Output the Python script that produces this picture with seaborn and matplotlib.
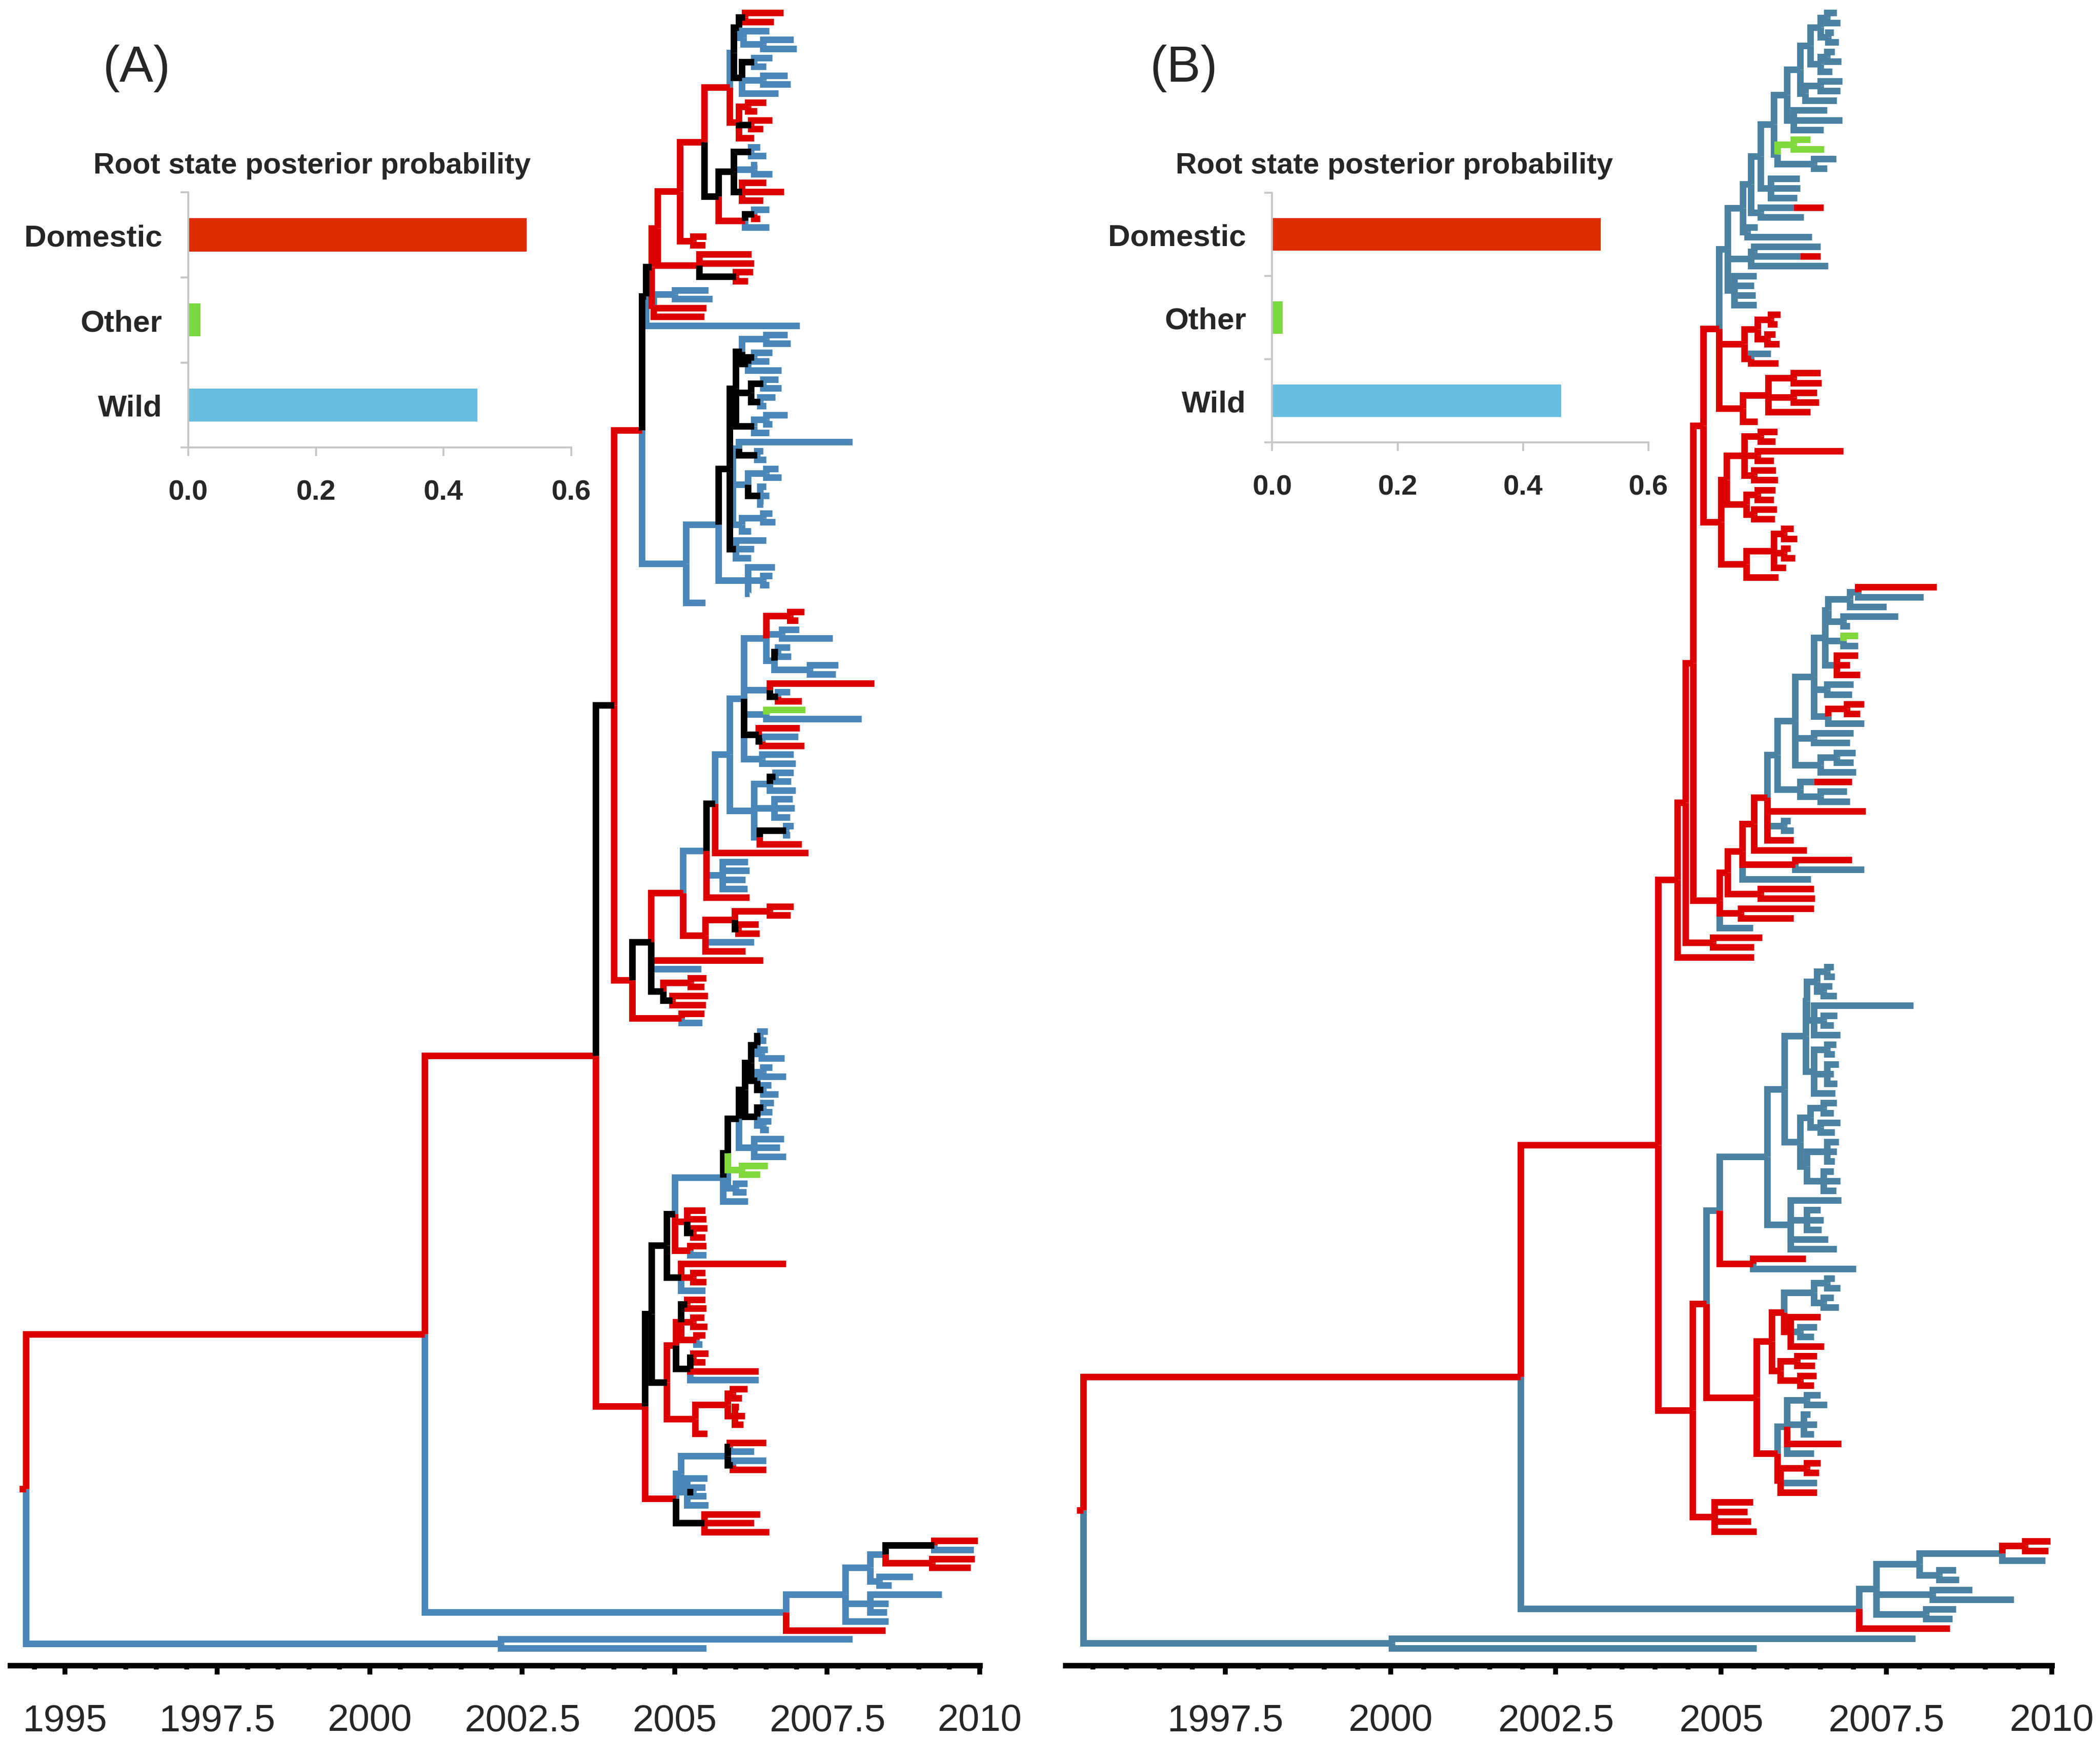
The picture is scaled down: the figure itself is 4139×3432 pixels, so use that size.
import matplotlib
matplotlib.use("Agg")
import matplotlib.pyplot as plt
import numpy as np
import pandas as pd
import seaborn as sns

# ---------------------------------------------------------------------------
# Trees written as nested clades: "(child,child)sT" or leaf "sT"
# s = state of the branch (r domestic, b wild, k unknown, g other)
# T = node time in years after 2000
# ---------------------------------------------------------------------------

# ---- panel A ----
A_G597 = "(((r6.78,r6.62)k6.15,(b6.55,(b6.95,b7.0)b6.45)b6.12)k6.05,((b6.6,b6.5)k6.3,(b6.85,b6.9)b6.45,b6.7)k6.1)b5.97"
A_G605 = "((r6.5,r6.35)r6.2,(r6.6,r6.45)k6.25,r6.3)r6.05"
A_G572 = "(((b6.4,b6.5)k6.25,(b6.35,b6.6)b6.3,(r6.5,r6.79,r6.45)k6.1)k5.97,((b6.55,r6.4)k6.3,b6.55)r6.15)k5.72"
A_G508 = f"((({A_G597},{A_G605})r5.9,{A_G572})r5.48,(r5.52,r5.5)r5.3)r5.08"
A_NC = f"(({A_G508},(r6.26,r6.3,(r6.28,r6.2)k6.0)r5.4)r4.72,((b5.55,b5.62)b5.0,r5.52,r5.48)r4.65)k4.62"
A_NB = f"({A_NC},b7.05)k4.53"
A_NEBIG = ("((((b6.85,b6.9)b6.5,((b6.6,b6.55)k6.3,b6.75)k6.2)k6.1,((b6.7,b6.75)k6.45,(b6.65,b6.5)k6.4)k6.25,"
           "((b6.85,b6.6)b6.5,b6.55)k6.3)k6.0,((b7.91,(b6.45,b6.5)k6.35)b6.05,((b6.7,b6.75)b6.5,"
           "(b6.5,b6.55,b6.45)k6.4)b6.2,((b6.6,b6.65)b6.45,b6.25)b6.1)b5.95,(b6.5,b6.3,b6.25)k6.0)k5.9")
A_NE = f"({A_NEBIG},(b6.64,(b6.6,b6.55)b6.45,b6.22)b6.2)b5.72"
A_NA = f"({A_NB},({A_NE},b5.5)b5.18)r4.46"
A_TOPPART = ("(((r7.12,r7.02)r6.89,(b7.04,b7.59)b6.76,((b6.89,b6.91)k6.69,(b7.68,b7.64)b7.21)b6.63)b6.5,"
             "(r8.27,(b6.89,r7.08)k6.69)b6.56,(g7.14,b8.06)b6.5,(r7.05,(b7.02,r7.12)k6.43)k6.37,"
             "(b6.95,b6.98)b6.43)b6.13")
A_MIDPART = "(((b6.95,b6.91)k6.65,b6.98)b6.56,(b6.93,b6.96,b6.89)b6.63,((b6.95,b6.89)k6.82,r7.08)b6.39)b6.3"
A_BIGBLUE = f"((({A_TOPPART},{A_MIDPART})b5.9,r7.19)k5.66,(b6.2,b6.22,b6.16,b6.19)b5.78,r6.22)b5.52"
A_NR = "(((r6.95,r6.9)r6.56,(r6.37,r6.39)k6.04)r5.98,b6.3,r6.16)r5.5"
A_NG = f"(({A_BIGBLUE},{A_NR})r5.13,r6.45,b5.43,((r5.52,r5.48)r5.26,(r5.54,r5.51)k4.96)k4.81)k4.61"
A_N3 = f"({A_NA},({A_NG},(r5.48,b5.45)r5.11)r4.3)k4.0"
A_SA = "((b6.52,b6.5)k6.4,(b6.52,b6.8)b6.42)k6.35"
A_SB = "((b6.6,b6.82)b6.45,(b6.58,b6.7)k6.45)k6.35"
A_SC = "((b6.62,b6.6)k6.45,(b6.58,b6.54)b6.45)k6.35"
A_STAIR = f"(((({A_SA},{A_SB})k6.25,{A_SC})k6.15,(b6.79,b6.72,b6.82)b6.3)k6.05,(g6.52,g6.4)g6.1,(b6.19,b6.17)b6.0)k5.87"
A_N9 = f"(({A_STAIR},b6.2)b5.79,(r5.5,r5.52,(r5.53,r5.5)k5.3)r5.2,(r5.52,b5.52)r5.25)k5.0"
A_N10 = "(r6.82,(r5.5,r5.52)r5.3,b5.5)k5.1"
A_N11 = "(((r5.5,r5.52)k5.2,(r5.48,r5.53)r5.3,(r5.5,b5.45)r5.35)r5.1,((r5.55,r5.5)k5.3,r6.37,b6.37)k5.25)r5.02"
A_N12 = "(((r6.19,r6.1)r5.95,(r6.05,r6.15,r6.12)r5.98)r5.87,r5.53)r5.33"
A_N13 = "(((r6.5,b6.3)k5.9,(b6.5,r6.5)k5.95)b5.87,(b5.53,(b5.5,b5.52)k5.3,b5.55)b5.2)b5.1"
A_N14 = "(r6.4,r6.3,r6.55)k5.48"
A_N4 = f"((({A_N9},{A_N10})k4.87,({A_N11},{A_N12})k4.87)k4.62,({A_N13},{A_N14})r5.02)r4.51"
A_BC = "(((((r9.97,b9.9)k9.25,(r9.92,r9.85)r9.22)b8.45,(b8.9,b8.55)b8.35)b8.2,(b9.38,b8.5,b8.48)b8.2,b8.5)b7.8,r8.45)b6.82"
TREE_A = f"(((({A_N3},{A_N4})r3.7,{A_BC})r0.9,(b7.91,b5.52)b2.15)r-5.64)r-5.75"

# ---- panel B ----
B_TB1 = "(((b6.75,b6.8)b6.6,(b6.7,b6.78)b6.62)b6.5,((b6.72,b6.82)b6.6,b6.68)b6.5)b6.35"
B_TB2 = "((b6.83,b6.8)b6.5,b6.75)b6.27"
B_TB3 = "(b6.6,b6.83,b6.55)b6.1"
B_TB4 = "((g6.35,g6.56)g6.1,(b6.74,b6.6)b6.4)b5.85"
B_TB5 = "(b6.19,b6.2,b6.15)b5.75"
B_TB6 = "((r6.55)b6.1,b6.25)b5.6"
B_TB7 = "(b5.55,b6.37)b5.4"
B_TB8 = "(b6.5,(r6.5)b6.2)b5.5"
B_TB9 = "(b5.54,b5.5,b5.52,b5.54)b5.2"
B_BLUETOP = (f"((((((({B_TB1},{B_TB2})b6.2,{B_TB3})b6.0,{B_TB4})b5.8,{B_TB5})b5.6,{B_TB6})b5.45,{B_TB7})b5.33,"
             f"({B_TB8},b6.62)b5.45,{B_TB9})b5.1")
B_RC1 = "(((r5.9,r5.85)r5.75,(r5.82,r5.88)r5.7)r5.55,(b5.75,r5.87)r5.45)r5.35"
B_RC2 = "(((r6.5,r6.52)r6.1,(r6.45,r6.48)r6.1,r6.35)r5.71,r5.55)r5.33"
B_RC3 = "(((r5.85,r5.82)r5.6,(r6.85,r5.8)r5.55,(r5.83,r5.86)r5.5)r5.35,((r5.82,r5.8)r5.55,(r5.84,r5.81)r5.5)r5.38)r5.08"
B_RC4 = "(((r6.1,r6.15)r5.95,(r6.05,r6.12)r5.95,r5.98)r5.8,r5.87)r5.38"
B_M1 = "((r8.26,b8.06)b7.07,b7.5)b6.95"
B_M2 = "(b7.68,b6.95)b6.85"
B_M3 = "(g7.07,b7.07)b6.85"
B_M4 = "(r7.07,r6.95,r7.1)b6.75"
B_M5 = "(b7.0,b6.98)b6.6"
B_M6 = "((r7.16,r7.1)r6.9,b7.16)b6.62"
B_M7 = "(b7.0,b6.95)b6.4"
B_M8 = "((b7.03,b7.0)b6.75,b7.04)b6.5"
B_M9 = "((r6.98)b6.4,(b6.9,b6.95)b6.5)b6.2"
B_BLUEMID = f"((((({B_M1},{B_M2})b6.62,{B_M3},{B_M4})b6.57,{B_M5},{B_M6})b6.4,{B_M7},{B_M8})b6.12,{B_M9})b5.85"
B_MIDUP = f"({B_BLUEMID},r7.19,(b6.05,b6.1)b5.95,r6.1)r5.7"
B_MIDB = f"(((({B_MIDUP},r6.3)r5.5,(r6.98,b7.16)r6.12,b6.36)r5.32,(r6.4,r6.42)r5.6)r5.1,(r6.4,r6.1)r5.3,b5.48)r4.98"
B_L1 = "((b6.7,b6.72)b6.6,(b6.68,b6.75)b6.55)b6.45"
B_L2 = "(b7.91,(b6.76,b6.7)b6.55,b6.8)b6.4"
B_L3 = "((b6.74,b6.72)b6.6,(b6.78,b6.7,b6.76)b6.6,b6.73)b6.4"
B_L4 = "((b6.75,b6.7)b6.55,(b6.8,b6.72)b6.5)b6.35"
B_L5 = "((b6.78,b6.75,b6.72)b6.6,(b6.7,b6.8,b6.74)b6.55)b6.3"
B_L6 = "(b6.82,(b6.5,b6.55,b6.52)b6.3,b6.62,b6.75)b6.05"
B_BIGBLUE = f"(((({B_L1},{B_L2})b6.3,{B_L3})b6.28,({B_L4},{B_L5})b6.2)b5.96,{B_L6})b5.7"
B_P1 = "((b6.72,b6.8)b6.6,(b6.7,b6.78)b6.55)b6.4"
B_P2 = "(r6.5,(b6.45,b6.4)b6.2,r6.56)r6.05"
B_P3 = "((r6.45,r6.42)r6.15,(r6.44,r6.4)r6.2)r5.9"
B_P4 = "((b6.5,b6.6)b6.3,(b6.35,b6.45,b6.4)b6.25,r6.82,b6.4)b6.0"
B_P5 = "((r6.5,r6.48)r6.3,b6.45,r6.45)r5.9"
B_LOWER = f"((({B_P1},{B_P2})r5.95,{B_P3})r5.77,({B_P4},{B_P5})r5.85)r5.54"
B_NB3 = f"((({B_BIGBLUE},(r6.28,b7.04)r5.48)b4.98,{B_LOWER})r4.78,(r5.48,r5.4,r5.45,r5.54)r4.9)r4.57"
B_NB7 = f"(({B_BLUETOP},{B_RC1},{B_RC2})r4.97,({B_RC3},{B_RC4})r5.0)r4.73"
B_NB4 = f"((({B_NB7},{B_MIDB})r4.58,(r5.62,r5.5)r4.88)r4.46,r5.5)r4.34"
B_BC = "(((((r9.98,r9.95)r9.6,b9.9)b9.25,(b8.55,b8.6)b8.3)b8.0,(b8.8,b9.43)b8.2,(b8.55,b8.5)b8.1)b7.35,r8.46)b7.09"
TREE_B = f"(((({B_NB4},{B_NB3})r4.05,{B_BC})r1.97,(b7.94,b5.54)b0.02)r-4.65)r-4.75"

# ---- root state posterior probabilities ----
STATES = ["Domestic", "Other", "Wild"]
PROB_A = [0.53, 0.019, 0.453]
PROB_B = [0.524, 0.017, 0.461]

YEAR_TICKS_A = [1995, 1997.5, 2000, 2002.5, 2005, 2007.5, 2010]
YEAR_TICKS_B = [1997.5, 2000, 2002.5, 2005, 2007.5, 2010]

RED = "#dc0000"
BAR_COLORS = {"Domestic": "#dd2c00", "Other": "#7ad840", "Wild": "#68bde0"}


def parse_tree(text):
    s = "".join(text.split())
    pos = 0

    def read():
        nonlocal pos
        kids = []
        if s[pos] == "(":
            pos += 1
            kids.append(read())
            while s[pos] == ",":
                pos += 1
                kids.append(read())
            pos += 1
        state = s[pos]
        pos += 1
        start = pos
        while pos < len(s) and s[pos] not in ",()":
            pos += 1
        return {"state": state, "t": 2000 + float(s[start:pos]), "kids": kids}

    return read()


def count_tips(node):
    if not node["kids"]:
        return 1
    return sum(count_tips(k) for k in node["kids"])


def place(node, ys):
    if node["kids"]:
        for k in node["kids"]:
            place(k, ys)
        node["y"] = (node["kids"][0]["y"] + node["kids"][-1]["y"]) / 2
    else:
        node["y"] = next(ys)


def branch_rows(node, rows):
    for k in node["kids"]:
        seg = len(rows) // 3
        rows.append((node["t"], node["y"], seg, k["state"]))
        rows.append((node["t"], k["y"], seg, k["state"]))
        rows.append((k["t"], k["y"], seg, k["state"]))
        branch_rows(k, rows)


def tree_frame(text, y_top, y_bot):
    root = parse_tree(text)
    n = count_tips(root)
    place(root, iter(np.linspace(y_top, y_bot, n)))
    rows = []
    branch_rows(root, rows)
    return pd.DataFrame(rows, columns=["year", "y", "seg", "state"])


sns.set_style("white")
plt.rcParams["font.family"] = ["Liberation Sans", "DejaVu Sans"]

W, H = 1568.0, 1300.4  # layout grid of the reference
fig = plt.figure(figsize=(13.797, 11.443), dpi=300)


def draw_tree(rect, text, xlim, ticks, blue):
    ax = fig.add_axes(rect)
    df = tree_frame(text, 10, 1231)
    pal = {"b": blue, "r": RED, "k": "#000000", "g": "#80d83c"}
    sns.lineplot(data=df, x="year", y="y", units="seg", hue="state", estimator=None,
                 sort=False, palette=pal, hue_order=["b", "r", "k", "g"], legend=False,
                 linewidth=3.1, solid_capstyle="butt", solid_joinstyle="miter", ax=ax)
    ax.set_xlim(*xlim)
    ax.set_ylim(1244, 0)
    ax.set_facecolor("none")
    for side in ["left", "top", "right"]:
        ax.spines[side].set_visible(False)
    ax.spines["bottom"].set_linewidth(2.6)
    ax.spines["bottom"].set_color("black")
    ax.set_yticks([])
    ax.set_xticks(ticks)
    ax.set_xticklabels([f"{v:g}" for v in ticks])
    ax.set_xticks(np.arange(np.ceil(xlim[0] * 2) / 2, xlim[1] + 0.01, 0.5), minor=True)
    ax.tick_params(axis="x", which="major", length=4.4, width=2.3, color="black",
                   labelsize=18, pad=13.5, direction="out", bottom=True)
    ax.tick_params(axis="x", which="minor", length=2.0, width=2.3, color="black",
                   direction="out", bottom=True)
    ax.set_xlabel("")
    ax.set_ylabel("")
    return ax


def draw_inset(rect, probs):
    ax = fig.add_axes(rect)
    sns.barplot(x=probs, y=STATES, hue=STATES, palette=BAR_COLORS, orient="h",
                width=0.39, linewidth=0, saturation=1, legend=False, ax=ax)
    ax.set_facecolor("none")
    ax.set_xlim(0, 0.6)
    ax.set_ylim(2.5, -0.5)
    ax.set_xticks([0, 0.2, 0.4, 0.6])
    ax.set_xticklabels(["0.0", "0.2", "0.4", "0.6"], fontsize=13.5, fontweight="bold")
    ax.set_yticks([-0.5, 0.5, 1.5, 2.5])
    ax.set_yticklabels([])
    ax.set_yticks([0, 1, 2], minor=True)
    ax.set_yticklabels(STATES, minor=True, fontsize=14.5, fontweight="bold")
    for side in ["top", "right"]:
        ax.spines[side].set_visible(False)
    for side in ["left", "bottom"]:
        ax.spines[side].set_color("#c6c6c6")
        ax.spines[side].set_linewidth(0.9)
    ax.tick_params(axis="y", which="major", length=3.7, width=0.9, color="#c6c6c6", left=True)
    ax.tick_params(axis="y", which="minor", length=0, pad=12.3, left=True)
    ax.tick_params(axis="x", which="major", length=4, width=0.9, color="#c6c6c6",
                   pad=11, bottom=True)
    ax.set_xlabel("")
    ax.set_ylabel("")
    return ax


bottom = (H - 1244) / H
draw_tree([7.4 / W, bottom, (731.5 - 7.4) / W, 1 - bottom], TREE_A, (1994.1, 2010),
          YEAR_TICKS_A, "#4a87b8")
draw_tree([795.4 / W, bottom, (1531.8 - 795.4) / W, 1 - bottom], TREE_B, (1995.08, 2010),
          YEAR_TICKS_B, "#4b82a2")

draw_inset([140.5 / W, (H - 334.5) / H, (426.6 - 140.5) / W, (334.5 - 144) / H], PROB_A)
draw_inset([949.9 / W, (H - 330.7) / H, (1230.8 - 949.9) / W, (330.7 - 144.4) / H], PROB_B)

fig.text(233 / W, 1 - 124 / H, "Root state posterior probability", ha="center", va="center",
         fontsize=13.9, fontweight="bold")
fig.text(1041 / W, 1 - 124 / H, "Root state posterior probability", ha="center", va="center",
         fontsize=13.9, fontweight="bold")
fig.text(102 / W, 1 - 51 / H, "(A)", ha="center", va="center", fontsize=24)
fig.text(884 / W, 1 - 51 / H, "(B)", ha="center", va="center", fontsize=24)

fig.savefig("out.png", dpi=300, facecolor="white")
